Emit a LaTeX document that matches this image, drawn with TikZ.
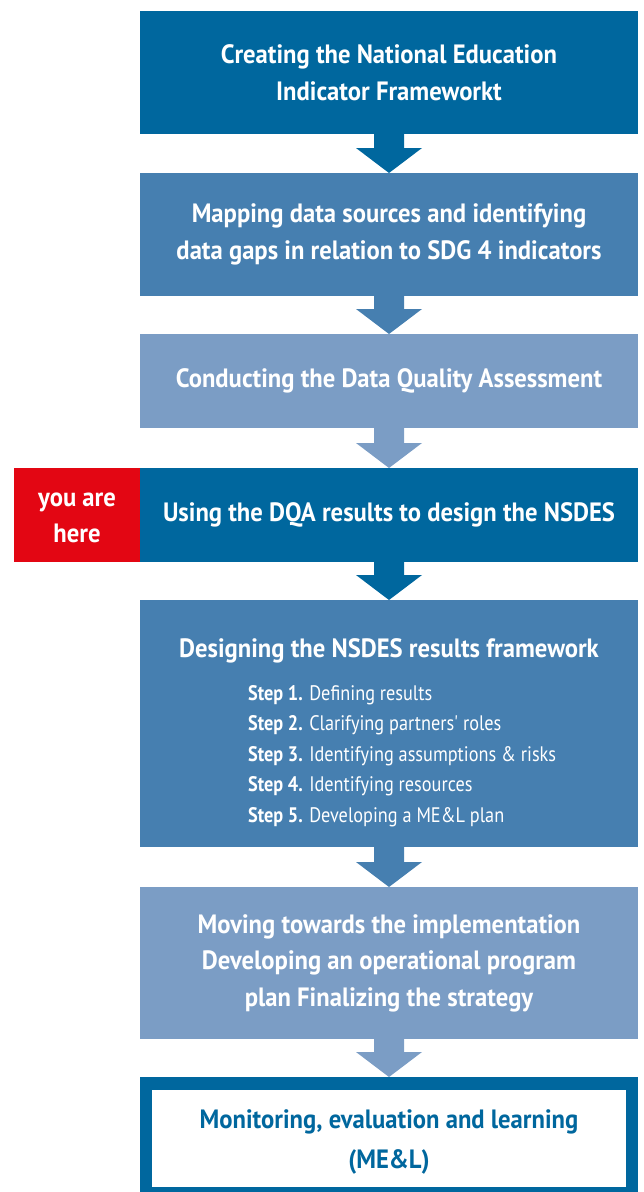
\documentclass[tikz,border=0pt]{standalone}
\usepackage{fontspec}
\setmainfont{PT Sans}[FakeStretch=0.93]
\newfontfamily\stepfont{PT Sans}[FakeStretch=0.87]
\usetikzlibrary{calc}
\definecolor{cdark}{HTML}{00679E}
\definecolor{cmid}{HTML}{467FB0}
\definecolor{clight}{HTML}{7B9DC5}
\definecolor{cred}{HTML}{E30613}
\newcommand{\flowarrow}[3]{%
  \fill[#3] ($(#1.south)+(-15,0)$) -- ($(#2.north)+(-15,-25)$) -- ($(#2.north)+(-33,-25)$)
    -- (#2.north) -- ($(#2.north)+(33,-25)$) -- ($(#2.north)+(15,-25)$)
    -- ($(#1.south)+(15,0)$) -- cycle;}
\tikzset{
  blk/.style={rectangle, inner sep=0pt, outer sep=0pt, minimum width=498pt, anchor=north west},
  headtxt/.style={text=white, align=center, font=\fontsize{26.5}{36.5}\selectfont\bfseries},
  steptxt/.style={text=white, anchor=base west, inner sep=0pt, font=\fontsize{21}{30.5}\selectfont\stepfont},
}
\begin{document}
\begin{tikzpicture}[x=1pt, y=-1pt]
\useasboundingbox (0,0) rectangle (643,1192);
% boxes
\node[blk, fill=cdark, minimum height=123pt] (b1) at (140,11) {};
\node[blk, fill=cmid, minimum height=123pt] (b2) at (140,173) {};
\node[blk, fill=clight, minimum height=94pt] (b3) at (140,334) {};
\node[blk, fill=cdark, minimum height=94pt] (b4) at (140,468) {};
\node[rectangle, inner sep=0pt, outer sep=0pt, anchor=north west, fill=cred, minimum width=126pt, minimum height=94pt] (red) at (14,468) {};
\node[blk, fill=cmid, minimum height=247pt] (b5) at (140,600) {};
\node[blk, fill=clight, minimum height=152pt] (b6) at (140,887) {};
\node[blk, fill=cdark, minimum height=115pt] (b7) at (140,1077) {};
\node[rectangle, inner sep=0pt, outer sep=0pt, anchor=north west, fill=white, minimum width=474pt, minimum height=97pt] (b7in) at (152,1090) {};
% texts
\node[headtxt] (t1) at (b1.center) {Creating the National Education\\Indicator Frameworkt};
\node[headtxt] (t2) at (b2.center) {Mapping data sources and identifying\\data gaps in relation to SDG 4 indicators};
\node[headtxt] (t3) at (b3.center) {Conducting the Data Quality Assessment};
\node[headtxt] (t4) at (b4.center) {Using the DQA results to design the NSDES};
\node[headtxt] (tr) at ([yshift=-3pt]red.center) {you are\\here};
\node[headtxt, anchor=base] (t5) at (389,657) {Designing the NSDES results framework};
\node[steptxt] (s1) at (248,700) {\textbf{Step 1.} Defining results};
\node[steptxt] (s2) at (248,730.5) {\textbf{Step 2.} Clarifying partners' roles};
\node[steptxt] (s3) at (248,761) {\textbf{Step 3.} Identifying assumptions \& risks};
\node[steptxt] (s4) at (248,791.5) {\textbf{Step 4.} Identifying resources};
\node[steptxt] (s5) at (248,822) {\textbf{Step 5.} Developing a ME\&L plan};
\node[headtxt] (t6) at (b6.center) {Moving towards the implementation\\Developing an operational program\\plan Finalizing the strategy};
\node[headtxt, text=cdark, font=\fontsize{26.5}{40}\selectfont\bfseries] (t7) at ([yshift=-3pt]b7in.center) {Monitoring, evaluation and learning\\(ME\&L)};
% arrows
\flowarrow{b1}{b2}{cdark}
\flowarrow{b2}{b3}{cmid}
\flowarrow{b3}{b4}{clight}
\flowarrow{b4}{b5}{cdark}
\flowarrow{b5}{b6}{cmid}
\flowarrow{b6}{b7}{clight}
\end{tikzpicture}
\end{document}
